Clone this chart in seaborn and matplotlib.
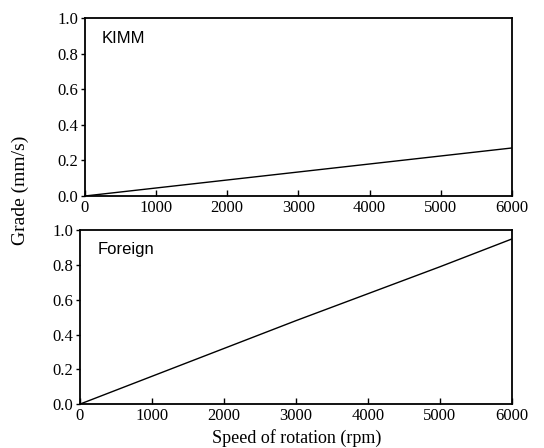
import matplotlib
matplotlib.use("Agg")
import matplotlib.pyplot as plt
import seaborn as sns
import pandas as pd

speed = [0, 1000, 2000, 3000, 4000, 5000, 6000]
kimm = [0.0, 0.045, 0.09, 0.135, 0.18, 0.225, 0.27]
foreign = [0.0, 0.16, 0.32, 0.48, 0.635, 0.79, 0.95]
xticks = [0, 1000, 2000, 3000, 4000, 5000, 6000]
yticks = [0.0, 0.2, 0.4, 0.6, 0.8, 1.0]
panels = ["KIMM", "Foreign"]

sns.set_theme(style="ticks")
plt.rcParams['font.family'] = ['Liberation Serif', 'DejaVu Serif']
plt.rcParams['text.color'] = 'black'

fig = plt.figure(figsize=(5.44, 4.48), dpi=100)
ax1 = fig.add_axes([0.156, 0.5625, 0.785, 0.397])
ax2 = fig.add_axes([0.147, 0.098, 0.794, 0.388])

for ax, vals, name in [(ax1, kimm, panels[0]), (ax2, foreign, panels[1])]:
    df = pd.DataFrame({"speed": speed, "grade": vals})
    sns.lineplot(data=df, x="speed", y="grade", ax=ax, color="black", linewidth=1.0)
    ax.set_xlim(0, 6000)
    ax.set_ylim(0, 1.0)
    ax.set_xticks(xticks)
    ax.set_yticks(yticks)
    ax.set_xticklabels([str(t) for t in xticks], fontsize=12)
    ax.set_yticklabels([f"{t:.1f}" for t in yticks], fontsize=12)
    ax.tick_params(axis="x", direction="in", length=4, width=1, colors="black", pad=3)
    ax.tick_params(axis="y", direction="out", length=3, width=1, colors="black", pad=2)
    for s in ax.spines.values():
        s.set_visible(True)
        s.set_color("black")
        s.set_linewidth(1.3)
    ax.set_xlabel("")
    ax.set_ylabel("")
    ax.text(0.04, 0.93, name, transform=ax.transAxes, fontsize=12, color="black",
            family=['Liberation Sans', 'DejaVu Sans'], va="top", ha="left")

fig.text(0.037, 0.575, "Grade (mm/s)", rotation=90, fontsize=14, va="center", ha="center")
fig.text(0.545, 0.003, "Speed of rotation (rpm)", fontsize=13, va="bottom", ha="center")

fig.savefig("out.png", dpi=100)
